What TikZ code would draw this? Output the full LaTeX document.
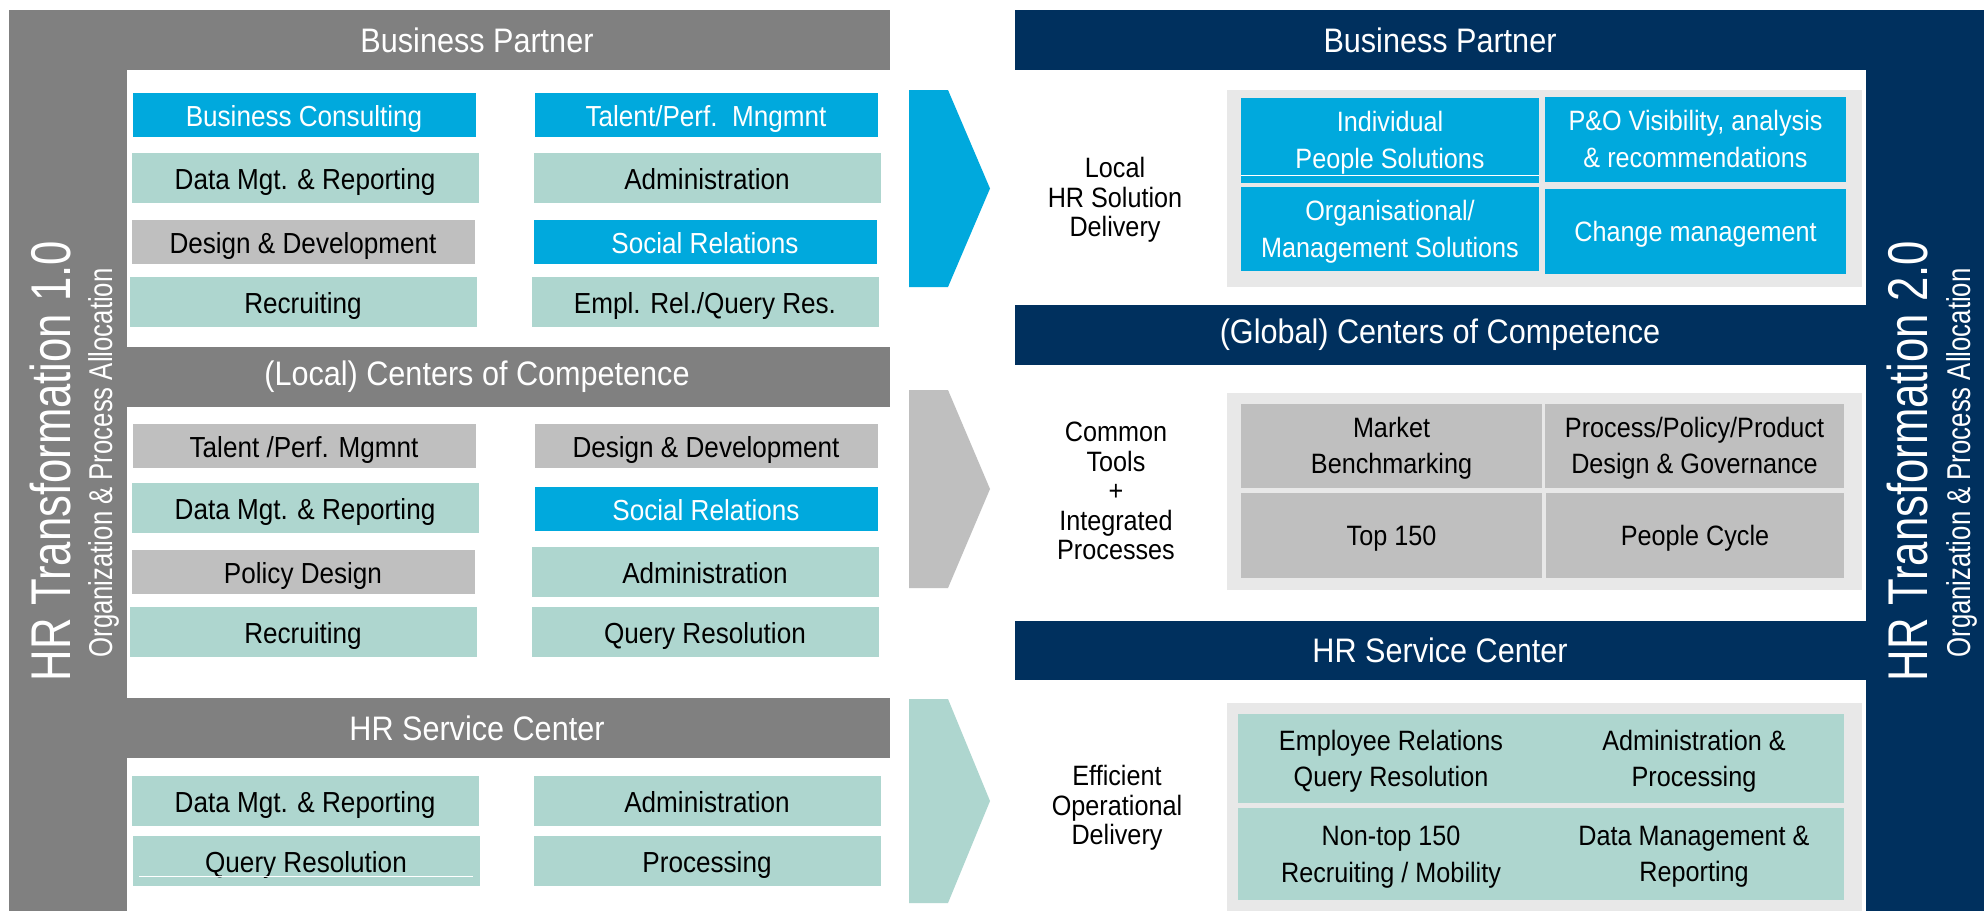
\documentclass[tikz,border=0pt]{standalone}
\usepackage{fontspec}
\setmainfont{Liberation Sans}[FakeStretch=0.9]
\newfontfamily\vertfont{Liberation Sans}[FakeStretch=0.78]
\usepackage{xcolor}
\usetikzlibrary{calc,
	positioning}
\definecolor{hrgray}{HTML}{808080}
\definecolor{hrblue}{HTML}{00A9DD}
\definecolor{hrteal}{HTML}{AED6CF}
\definecolor{hrsilver}{HTML}{BFBFBF}
\definecolor{hrnavy}{HTML}{00305E}
\definecolor{hrpanel}{HTML}{E8E8E8}

\begin{document}
\begin{tikzpicture}[x=1pt,y=-1pt,
	box/.style={inner sep=0pt,text height=23pt,text depth=0pt,font=\fontsize{29}{35}\selectfont},
	bluebox/.style={box,fill=hrblue,text=white,minimum width=343pt,minimum height=44pt},
	greybox/.style={box,fill=hrsilver,minimum width=343pt,minimum height=44pt},
	tealbox/.style={box,fill=hrteal,minimum width=347pt,minimum height=50pt},
	cell/.style={inner sep=0pt,align=center,text depth=0pt,font=\fontsize{28}{36.5}\selectfont},
	bartext/.style={text=white,font=\fontsize{34}{40}\selectfont},
	sidelabel/.style={align=center,font=\fontsize{28}{29.5}\selectfont},
	vertbig/.style={text=white,rotate=90,anchor=base,font=\vertfont\fontsize{56}{60}\selectfont},
	vertsmall/.style={text=white,rotate=90,anchor=base,font=\vertfont\fontsize{33}{36}\selectfont}]
	\useasboundingbox (0,0) rectangle (1984,911);
	\fill[white] (0,0) rectangle (1984,911);

	% left frame
	\fill[hrgray] (9,10) rectangle (890,70);
	\fill[hrgray] (9,10) rectangle (127,911);
	\fill[hrgray] (127,347) rectangle (890,407);
	\fill[hrgray] (127,698) rectangle (890,758);
	\node[bartext] (lbp) at (477,40) {Business Partner};
	\node[bartext] (lcoc) at (477,377) {(Local) Centers of Competence};
	\node[bartext] (lhrsc) at (477,728) {HR Service Center};
	\node[vertbig] (ltitle) at (70,461) {HR Transformation 1.0};
	\node[vertsmall] (lsub) at (112,463) {Organization \& Process Allocation};

	% left boxes
	\node[bluebox] (bpa) at (304,115) {Business Consulting};
	\node[bluebox] (bpb) at (706,115) {Talent/Perf.\ \ Mngmnt};
	\node[tealbox] (bpc) at (305,178) {Data Mgt. \& Reporting};
	\node[tealbox] (bpd) at (707,178) {Administration};
	\node[greybox] (bpe) at (303,241.5) {Design \& Development};
	\node[bluebox] (bpf) at (705,241.5) {Social Relations};
	\node[tealbox] (bpg) at (303,302) {Recruiting};
	\node[tealbox] (bph) at (705,302) {Empl. Rel./Query Res.};

	\node[greybox] (cca) at (304,445.5) {Talent /Perf. Mgmnt};
	\node[greybox] (ccb) at (706,445.5) {Design \& Development};
	\node[tealbox] (ccc) at (305,508) {Data Mgt. \& Reporting};
	\node[bluebox] (ccd) at (706,509) {Social Relations};
	\node[greybox] (cce) at (303,572) {Policy Design};
	\node[tealbox] (ccf) at (705,572) {Administration};
	\node[tealbox] (ccg) at (303,632) {Recruiting};
	\node[tealbox] (cch) at (705,632) {Query Resolution};

	\node[tealbox] (sca) at (305,800.5) {Data Mgt. \& Reporting};
	\node[tealbox] (scb) at (707,800.5) {Administration};
	\node[tealbox] (scc) at (306,861) {Query Resolution};
	\node[tealbox] (scd) at (707,861) {Processing};
	\draw[white,line width=1pt] (139,876) -- (473,876);

	% arrows
	\foreach \col/\ya/\yb in {hrblue/90/287,hrsilver/390/588,hrteal/699/903} {
		\fill[\col] (909,\ya) -- (948,\ya) -- (990,{(\ya+\yb)/2}) -- (948,\yb) -- (909,\yb) -- cycle;
	}

	% right frame
	\fill[hrnavy] (1015,10) rectangle (1984,70);
	\fill[hrnavy] (1866,10) rectangle (1984,911);
	\fill[hrnavy] (1015,305) rectangle (1866,365);
	\fill[hrnavy] (1015,621) rectangle (1866,680);
	\node[bartext] (rbp) at (1440,40) {Business Partner};
	\node[bartext] (rcoc) at (1440,335) {(Global) Centers of Competence};
	\node[bartext] (rhrsc) at (1440,650) {HR Service Center};
	\node[vertbig] (rtitle) at (1927,461) {HR Transformation 2.0};
	\node[vertsmall] (rsub) at (1970,463) {Organization \& Process Allocation};

	\fill[hrpanel] (1227,90) rectangle (1862,287);
	\fill[hrpanel] (1227,393) rectangle (1862,590);
	\fill[hrpanel] (1227,703) rectangle (1862,911);

	\node[sidelabel] (loc) at (1115,200) {Local\\HR Solution\\Delivery};
	\node[sidelabel] (cmn) at (1116,491) {Common\\Tools\\+\\Integrated\\Processes};
	\node[sidelabel] (eff) at (1117,808) {Efficient\\Operational\\Delivery};

	% right cells
	\node[cell,fill=hrblue,text=white,minimum width=298pt,minimum height=85pt] (ips) at (1390,140) {Individual\\People Solutions};
	\draw[white,line width=1.5pt] (1241,175.5) -- (1539,175.5);
	\node[cell,fill=hrblue,text=white,minimum width=301pt,minimum height=85pt] (pov) at (1695.5,139) {P\&O Visibility, analysis\\\& recommendations};
	\node[cell,fill=hrblue,text=white,minimum width=298pt,minimum height=84pt] (oms) at (1390,229) {Organisational/\\Management Solutions};
	\node[cell,fill=hrblue,text=white,minimum width=301pt,minimum height=85pt] (chm) at (1695.5,231.5) {Change management};

	\node[cell,fill=hrsilver,minimum width=301pt,minimum height=84pt] (mkb) at (1391.5,445.5) {Market\\Benchmarking};
	\node[cell,fill=hrsilver,minimum width=299pt,minimum height=84pt] (ppp) at (1694.5,445.5) {Process/Policy/Product\\Design \& Governance};
	\node[cell,fill=hrsilver,minimum width=301pt,minimum height=85pt] (top) at (1391.5,535.5) {Top 150};
	\node[cell,fill=hrsilver,minimum width=298pt,minimum height=85pt] (pcy) at (1695,535.5) {People Cycle};

	\node[cell,fill=hrteal,minimum width=306pt,minimum height=89pt] (erq) at (1391,758.5) {Employee Relations\\Query Resolution};
	\node[cell,fill=hrteal,minimum width=300pt,minimum height=89pt] (adp) at (1694,758.5) {Administration \&\\Processing};
	\node[cell,fill=hrteal,minimum width=306pt,minimum height=92pt] (ntr) at (1391,854) {Non-top 150\\Recruiting / Mobility};
	\node[cell,fill=hrteal,minimum width=300pt,minimum height=92pt] (dmr) at (1694,854) {Data Management \&\\Reporting};
\end{tikzpicture}
\end{document}
